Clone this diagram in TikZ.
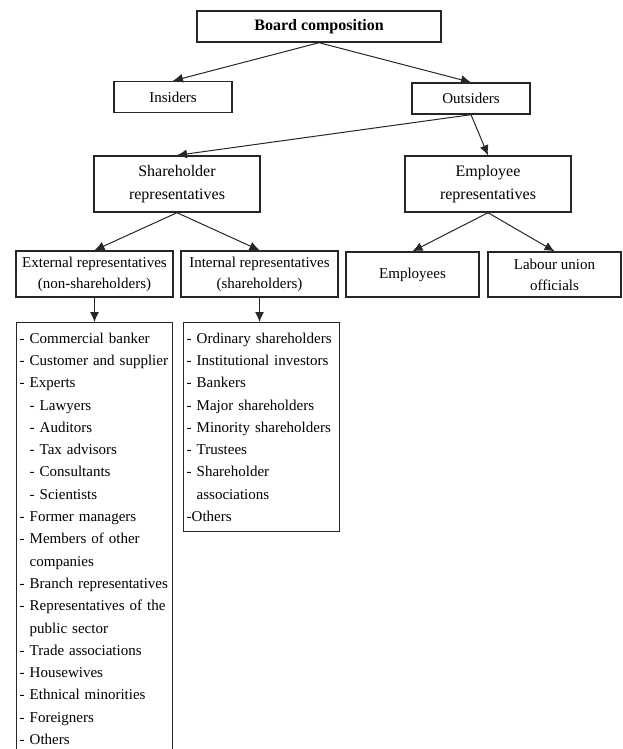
\documentclass[tikz,border=0pt]{standalone}
\usepackage{fontspec}
\setmainfont{Liberation Serif}
\usetikzlibrary{arrows.meta, positioning}

\begin{document}
\begin{tikzpicture}[
    x=1pt, y=-1pt,
    box/.style={
        draw=black!85,
        line width=1.4pt,
        align=center,
        inner sep=0pt,
        font=\fontsize{15}{21}\selectfont,
    },
    listbox/.style={
        draw=black!85,
        line width=1.4pt,
        anchor=north west,
        align=left,
        text width=150pt,
        inner xsep=3pt,
        inner ysep=10pt,
        font=\fontsize{15}{22.3}\selectfont,
    },
    link/.style={
        line width=1pt,
        draw=black!85,
        -{Latex[length=10pt, width=9pt]},
    }
]
    \useasboundingbox (0,0) rectangle (622,749);

    % Top levels
    \node[box, minimum width=244pt, minimum height=31pt,
        font=\fontsize{16}{20}\selectfont\bfseries] (board) at (319,26.5) {Board composition};
    \node[box, minimum width=118pt, minimum height=31pt] (insiders) at (173,97) {Insiders};
    \node[box, minimum width=118pt, minimum height=31pt] (outsiders) at (471,98.5) {Outsiders};

    % Representatives
    \node[box, minimum width=166pt, minimum height=56pt,
        font=\fontsize{16}{23}\selectfont] (sharerep) at (177,184) {Shareholder\\representatives};
    \node[box, minimum width=166pt, minimum height=56pt,
        font=\fontsize{16}{23}\selectfont] (emplrep) at (488,184) {Employee\\representatives};

    % Bottom level
    \node[box, minimum width=157pt, minimum height=46pt] (external) at (94.5,274) {External representatives\\(non-shareholders)};
    \node[box, minimum width=157pt, minimum height=46pt] (internal) at (259.5,274) {Internal representatives\\(shareholders)};
    \node[box, minimum width=133pt, minimum height=45pt] (employees) at (412.5,274.5) {Employees};
    \node[box, minimum width=133pt, minimum height=45pt] (labour) at (554.5,274.5) {Labour union\\officials};

    % Lists
    \node[listbox] (extlist) at (16,322) {%
        - Commercial banker\\
        - Customer and supplier\\
        - Experts\\
        \phantom{- }- Lawyers\\
        \phantom{- }- Auditors\\
        \phantom{- }- Tax advisors\\
        \phantom{- }- Consultants\\
        \phantom{- }- Scientists\\
        - Former managers\\
        - Members of other\\
        \phantom{- }companies\\
        - Branch representatives\\
        - Representatives of the\\
        \phantom{- }public sector\\
        - Trade associations\\
        - Housewives\\
        - Ethnical minorities\\
        - Foreigners\\
        - Others\\
        \strut};
    \node[listbox] (intlist) at (183,322) {%
        - Ordinary shareholders\\
        - Institutional investors\\
        - Bankers\\
        - Major shareholders\\
        - Minority shareholders\\
        - Trustees\\
        - Shareholder\\
        \phantom{- }associations\\
        -Others};

    % Arrows
    \draw[link] (board.south) -- (insiders.north);
    \draw[link] (board.south) -- (outsiders.north);
    \draw[link] (outsiders.south) -- (sharerep.north);
    \draw[link] (outsiders.south) -- (emplrep.north);
    \draw[link] (sharerep.south) -- (external.north);
    \draw[link] (sharerep.south) -- (internal.north);
    \draw[link] (emplrep.south) -- (employees.north);
    \draw[link] (emplrep.south) -- (labour.north);
    \draw[link] (external.south) -- (extlist.north -| external.south);
    \draw[link] (internal.south) -- (intlist.north -| internal.south);
\end{tikzpicture}
\end{document}
